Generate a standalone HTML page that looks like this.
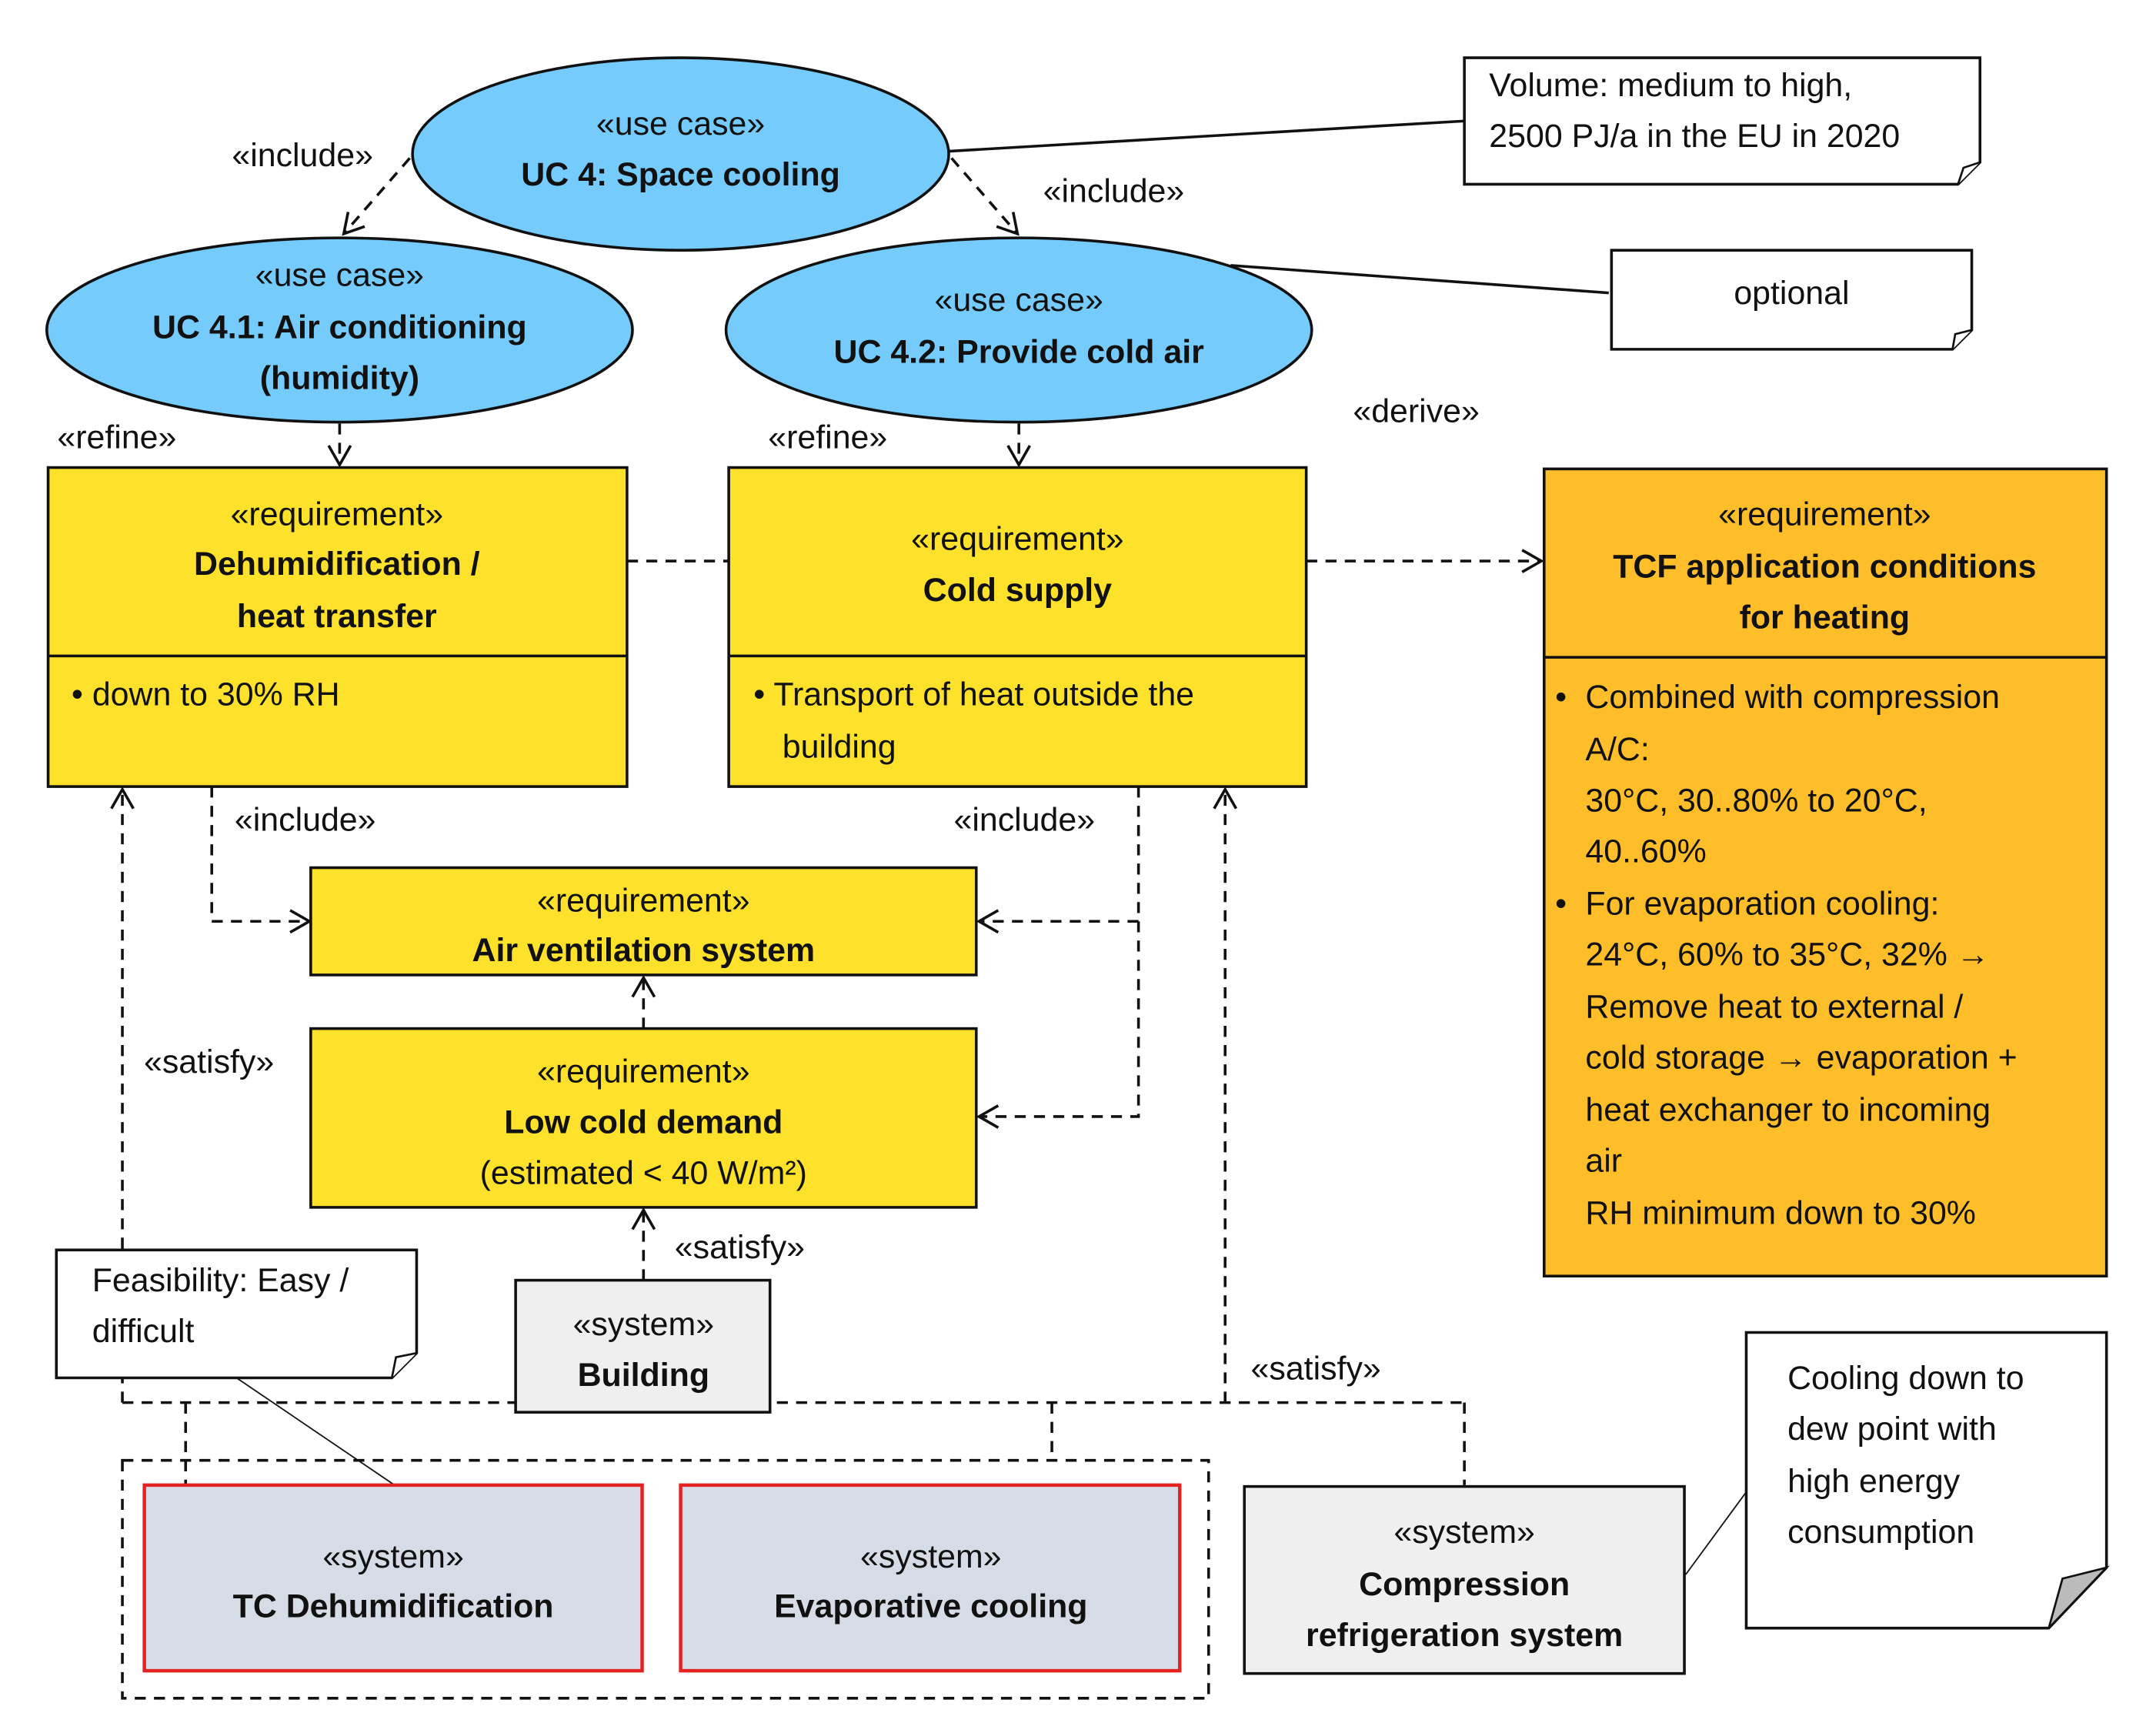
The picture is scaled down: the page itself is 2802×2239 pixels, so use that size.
<!DOCTYPE html>
<html><head><meta charset="utf-8"><style>
html,body{margin:0;padding:0;background:#fff;}
svg{display:block;}
text{font-family:"Liberation Sans",sans-serif;font-size:24px;fill:#111;}
.b{font-weight:bold;}
.c{text-anchor:middle;}
</style></head><body>
<svg width="2802" height="2239" viewBox="0 0 1568 1253" preserveAspectRatio="none" xmlns="http://www.w3.org/2000/svg">
<defs>
<marker id="a" markerWidth="20" markerHeight="20" refX="16" refY="10" orient="auto" markerUnits="userSpaceOnUse">
<path d="M2,2 L16,10 L2,18" fill="none" stroke="#111" stroke-width="2"/></marker>
</defs>
<rect width="1568" height="1253" fill="#fff"/>
<g stroke="#111" stroke-width="2" fill="none">
<line x1="690" y1="110" x2="1065" y2="88"/>
<line x1="895" y1="193" x2="1170" y2="213"/>
<line x1="172" y1="1002" x2="287" y2="1080" stroke-width="1"/>
<line x1="1226" y1="1145" x2="1270" y2="1085" stroke-width="1"/>
</g>
<g stroke="#111" stroke-width="2" fill="none" stroke-dasharray="8,6">
<line x1="298" y1="115" x2="250" y2="170" marker-end="url(#a)"/>
<line x1="692" y1="115" x2="740" y2="170" marker-end="url(#a)"/>
<line x1="247" y1="308" x2="247" y2="338" marker-end="url(#a)"/>
<line x1="741" y1="308" x2="741" y2="338" marker-end="url(#a)"/>
<line x1="456" y1="408" x2="530" y2="408"/>
<line x1="950" y1="408" x2="1121" y2="408" marker-end="url(#a)"/>
<polyline points="154,572 154,670 225,670" marker-end="url(#a)"/>
<polyline points="828,572 828,812 712,812" marker-end="url(#a)"/>
<line x1="828" y1="670" x2="712" y2="670" marker-end="url(#a)"/>
<line x1="468" y1="748" x2="468" y2="711" marker-end="url(#a)"/>
<line x1="468" y1="931" x2="468" y2="880" marker-end="url(#a)"/>
<polyline points="89,1020 89,574" marker-end="url(#a)"/>
<polyline points="891,1020 891,574" marker-end="url(#a)"/>
<line x1="89" y1="1020" x2="1065" y2="1020"/>
<line x1="1065" y1="1020" x2="1065" y2="1080"/>
<line x1="135" y1="1020" x2="135" y2="1080"/>
<line x1="765" y1="1020" x2="765" y2="1062"/>
<rect x="89" y="1062" width="790" height="173"/>
</g>
<g fill="#75CBFB" stroke="#111" stroke-width="2">
<ellipse cx="495" cy="112" rx="195" ry="70"/>
<ellipse cx="247" cy="240" rx="213" ry="67"/>
<ellipse cx="741" cy="240" rx="213" ry="67"/>
</g>
<text class="c" x="495" y="98">«use case»</text>
<text class="c b" x="495" y="135">UC 4: Space cooling</text>
<text class="c" x="247" y="208">«use case»</text>
<text class="c b" x="247" y="246">UC 4.1: Air conditioning</text>
<text class="c b" x="247" y="283">(humidity)</text>
<text class="c" x="741" y="226">«use case»</text>
<text class="c b" x="741" y="264">UC 4.2: Provide cold air</text>
<g fill="#fff" stroke="#111" stroke-width="2">
<path d="M1065,42 H1440 V118 L1424,134 H1065 Z"/>
<path d="M1172,182 H1434 V240 L1420,254 H1172 Z"/>
<path d="M41,909 H303 V984 L285,1002 H41 Z"/>
<path d="M1270,969 H1532 V1140 L1490,1184 H1270 Z"/>
</g>
<g stroke="#111" stroke-width="1.5">
<path d="M1424,134 L1428,122 L1440,118" fill="#fff"/>
<path d="M1420,254 L1422,243 L1434,240" fill="#fff"/>
<path d="M285,1002 L288,987 L303,984" fill="#fff"/>
<path d="M1490,1184 L1500,1148 L1532,1140 Z" fill="#bbb"/>
</g>
<text x="1083" y="70">Volume: medium to high,</text>
<text x="1083" y="107">2500 PJ/a in the EU in 2020</text>
<text class="c" x="1303" y="221">optional</text>
<text x="67" y="939">Feasibility: Easy /</text>
<text x="67" y="976">difficult</text>
<text x="1300" y="1010">Cooling down to</text>
<text x="1300" y="1047">dew point with</text>
<text x="1300" y="1085">high energy</text>
<text x="1300" y="1122">consumption</text>
<text class="c" x="220" y="121">«include»</text>
<text class="c" x="810" y="147">«include»</text>
<text class="c" x="85" y="326">«refine»</text>
<text class="c" x="602" y="326">«refine»</text>
<text class="c" x="1030" y="307">«derive»</text>
<text class="c" x="222" y="604">«include»</text>
<text class="c" x="745" y="604">«include»</text>
<text class="c" x="152" y="780">«satisfy»</text>
<text class="c" x="538" y="915">«satisfy»</text>
<text class="c" x="957" y="1003">«satisfy»</text>
<g stroke="#111" stroke-width="2">
<rect x="35" y="340" width="421" height="232" fill="#FDE12A"/>
<line x1="35" y1="477" x2="456" y2="477"/>
<rect x="530" y="340" width="420" height="232" fill="#FDE12A"/>
<line x1="530" y1="477" x2="950" y2="477"/>
<rect x="1123" y="341" width="409" height="587" fill="#FDBE2A"/>
<line x1="1123" y1="478" x2="1532" y2="478"/>
<rect x="226" y="631" width="484" height="78" fill="#FDE12A"/>
<rect x="226" y="748" width="484" height="130" fill="#FDE12A"/>
<rect x="375" y="931" width="185" height="96" fill="#EFEFEF"/>
<rect x="905" y="1081" width="320" height="136" fill="#EFEFEF"/>
</g>
<g stroke="#E52222" stroke-width="2.5" fill="#D6DCE5">
<rect x="105" y="1080" width="362" height="135"/>
<rect x="495" y="1080" width="363" height="135"/>
</g>
<text class="c" x="245" y="382">«requirement»</text>
<text class="c b" x="245" y="418">Dehumidification /</text>
<text class="c b" x="245" y="456">heat transfer</text>
<text x="52" y="513">•  down to 30% RH</text>
<text class="c" x="740" y="400">«requirement»</text>
<text class="c b" x="740" y="437">Cold supply</text>
<text x="548" y="513">•  Transport of heat outside the</text>
<text x="569" y="551">building</text>
<text class="c" x="1327" y="382">«requirement»</text>
<text class="c b" x="1327" y="420">TCF application conditions</text>
<text class="c b" x="1327" y="457">for heating</text>
<text x="1131" y="515">•</text>
<text x="1153" y="515">Combined with compression</text>
<text x="1153" y="553">A/C:</text>
<text x="1153" y="590">30°C, 30..80% to 20°C,</text>
<text x="1153" y="627">40..60%</text>
<text x="1131" y="665">•</text>
<text x="1153" y="665">For evaporation cooling:</text>
<text x="1153" y="702">24°C, 60% to 35°C, 32% →</text>
<text x="1153" y="740">Remove heat to external /</text>
<text x="1153" y="777">cold storage → evaporation +</text>
<text x="1153" y="815">heat exchanger to incoming</text>
<text x="1153" y="852">air</text>
<text x="1153" y="890">RH minimum down to 30%</text>
<text class="c" x="468" y="663">«requirement»</text>
<text class="c b" x="468" y="699">Air ventilation system</text>
<text class="c" x="468" y="787">«requirement»</text>
<text class="c b" x="468" y="824">Low cold demand</text>
<text class="c" x="468" y="861">(estimated &lt; 40 W/m²)</text>
<text class="c" x="468" y="971">«system»</text>
<text class="c b" x="468" y="1008">Building</text>
<text class="c" x="286" y="1140">«system»</text>
<text class="c b" x="286" y="1176">TC Dehumidification</text>
<text class="c" x="677" y="1140">«system»</text>
<text class="c b" x="677" y="1176">Evaporative cooling</text>
<text class="c" x="1065" y="1122">«system»</text>
<text class="c b" x="1065" y="1160">Compression</text>
<text class="c b" x="1065" y="1197">refrigeration system</text>
</svg>
</body></html>
